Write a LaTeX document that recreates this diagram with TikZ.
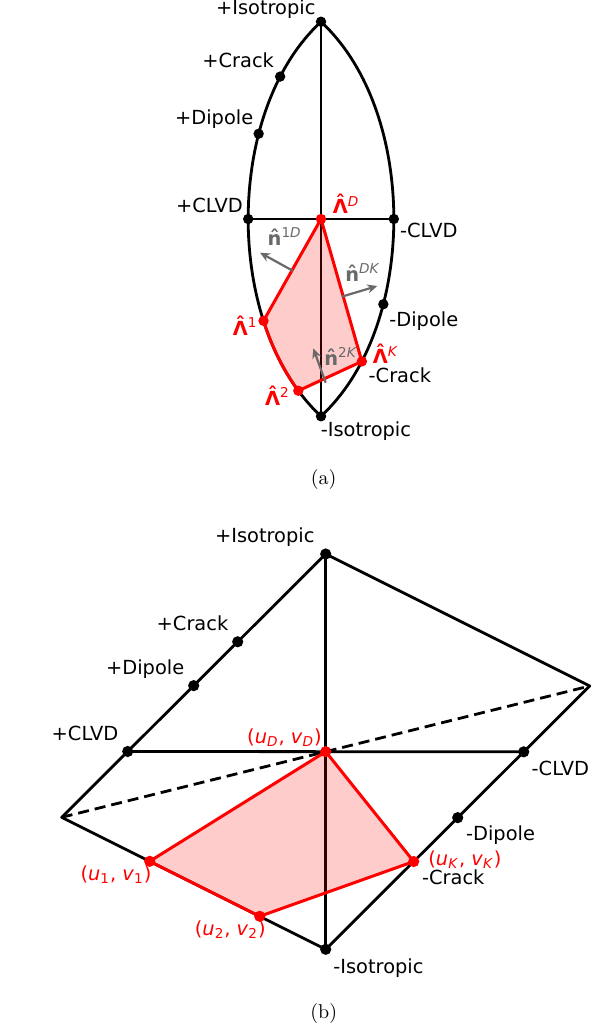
\documentclass[tikz,border=0pt]{standalone}
\usepackage{fontspec}
\newfontfamily\dejavu{DejaVu Sans}
\usetikzlibrary{arrows.meta,calc}
\definecolor{normgray}{RGB}{105,105,105}
\newcommand{\hatted}[2]{\ooalign{#2\cr\hidewidth\raisebox{#1}{ˆ}\hidewidth\cr}}

\begin{document}
\begin{tikzpicture}[
  x=0.5pt, y=-0.5pt,
  lbl/.style={font=\dejavu\fontsize{9.7}{11}\selectfont, inner sep=0pt, anchor=base west},
  redlbl/.style={lbl, text=red},
  nlbl/.style={lbl, text=normgray},
  rim/.style={line width=1.4pt, line join=round},
  thinrim/.style={line width=0.85pt},
  bdot/.style={circle, fill=black, inner sep=0pt, minimum size=5.2pt},
  rdot/.style={bdot, fill=red},
  poly/.style={draw=red, line width=1.5pt, line join=round, fill=red, fill opacity=0.2},
  normarrow/.style={-{Stealth[length=5pt, width=4.5pt]}, normgray, line width=1.1pt},
  captxt/.style={font=\fontsize{10}{12}\selectfont, inner sep=0pt}
]
\useasboundingbox (0,0) rectangle (597,1032);

% (a) lune, Hammer projection
\begin{scope}[shift={(321,219)}, x=69.75pt, y=69.75pt]
  \coordinate (atop) at (0,1.4142);
  \coordinate (abot) at (0,-1.4142);
  \coordinate (apcrack) at (-0.293,1.021);
  \coordinate (apdip) at (-0.447,0.611);
  \coordinate (apclvd) at (-0.522,0);
  \coordinate (amclvd) at (0.522,0);
  \coordinate (amdip) at (0.447,-0.611);
  \coordinate (amcrack) at (0.293,-1.021);
  \coordinate (alamD) at (0,0);
  \coordinate (alam1) at (-0.412,-0.730);
  \coordinate (alam2) at (-0.1625,-1.231);

  \draw[rim] plot[domain=90:-90, samples=73, variable=\t]
    ({2*sqrt(2)*cos(\t)*sin(-15)/sqrt(1+cos(\t)*cos(15))}, {sqrt(2)*sin(\t)/sqrt(1+cos(\t)*cos(15))});
  \draw[rim] plot[domain=90:-90, samples=73, variable=\t]
    ({2*sqrt(2)*cos(\t)*sin(15)/sqrt(1+cos(\t)*cos(15))}, {sqrt(2)*sin(\t)/sqrt(1+cos(\t)*cos(15))});
  \draw[rim] (atop) -- (abot);
  \draw[thinrim] (apclvd) -- (amclvd);
  \filldraw[poly] (alamD) -- (alam1)
    -- plot[domain=-42.5:-75.7, samples=12, variable=\t]
    ({2*sqrt(2)*cos(\t)*sin(-15)/sqrt(1+cos(\t)*cos(15))}, {sqrt(2)*sin(\t)/sqrt(1+cos(\t)*cos(15))})
    -- (amcrack) -- cycle;
\end{scope}

\foreach \p in {atop,apcrack,apdip,apclvd,amclvd,amdip,abot}
  \node[bdot] (d-\p) at (\p) {};
\foreach \p in {alamD,alam1,alam2,amcrack}
  \node[rdot] (d-\p) at (\p) {};

% normals
\coordinate (n1s) at (292.7,270.7);
\coordinate (n1e) at (260,252.7);
\coordinate (nKs) at (341.7,296.7);
\coordinate (nKe) at (377.3,286);
\coordinate (n2s) at (325.7,382.7);
\coordinate (n2e) at (313.3,348.3);
\draw[normarrow] (n1s) -- (n1e);
\draw[normarrow] (nKs) -- (nKe);
\draw[normarrow] (n2s) -- (n2e);

\node[lbl] (aiso) at (215.7,15) {+Isotropic};
\node[lbl] (acrk) at (202,68) {+Crack};
\node[lbl] (adip) at (174.7,125) {+Dipole};
\node[lbl] (aclvdp) at (175.7,212.7) {+CLVD};
\node[lbl] (aclvdm) at (399.7,237.3) {-CLVD};
\node[lbl] (adipm) at (389,326.7) {-Dipole};
\node[lbl] (acrkm) at (368.3,382.7) {-Crack};
\node[lbl] (aisom) at (320.5,436) {-Isotropic};
\node[redlbl] (tlamD) at (332.5,213.3) {\textbf{\hatted{0.2em}{Λ}}\textsuperscript{\textit{D}}};
\node[redlbl] (tlam1) at (232.5,335) {\textbf{\hatted{0.2em}{Λ}}\textsuperscript{1}};
\node[redlbl] (tlam2) at (264.8,405) {\textbf{\hatted{0.2em}{Λ}}\textsuperscript{2}};
\node[redlbl] (tlamK) at (372.5,363.3) {\textbf{\hatted{0.2em}{Λ}}\textsuperscript{\textit{K}}};
\node[nlbl] (tn1D) at (267.3,245) {\textbf{\hatted{0.02em}{n}}\textsuperscript{1\textit{D}}};
\node[nlbl] (tnDK) at (345,281) {\textbf{\hatted{0.02em}{n}}\textsuperscript{\textit{DK}}};
\node[nlbl] (tn2K) at (324,365) {\textbf{\hatted{0.02em}{n}}\textsuperscript{2\textit{K}}};
\node[captxt] (capa) at (323.7,479) {(a)};

% (b) parallelogram
\coordinate (btop) at (325.7,554);
\coordinate (bleft) at (61.7,817.3);
\coordinate (bright) at (589.7,686);
\coordinate (bbot) at (325.7,949.3);
\coordinate (bpcrack) at ($(btop)!0.3333!(bleft)$);
\coordinate (bpdip) at ($(btop)!0.5!(bleft)$);
\coordinate (bpclvd) at ($(btop)!0.75!(bleft)$);
\coordinate (bmclvd) at ($(bright)!0.25!(bbot)$);
\coordinate (bmdip) at ($(bright)!0.5!(bbot)$);
\coordinate (bmcrack) at ($(bright)!0.6667!(bbot)$);
\coordinate (buD) at ($(bleft)!0.5!(bright)$);
\coordinate (bu1) at ($(bleft)!0.3333!(bbot)$);
\coordinate (bu2) at ($(bleft)!0.75!(bbot)$);

\draw[rim] (btop) -- (bleft) -- (bbot) -- (bright) -- cycle;
\draw[rim] (btop) -- (bbot);
\draw[rim] (bpclvd) -- (bmclvd);
\draw[rim, dash pattern=on 5.5pt off 3pt] (bleft) -- (bright);
\filldraw[poly] (buD) -- (bu1) -- (bu2) -- (bmcrack) -- cycle;

\foreach \p in {btop,bpcrack,bpdip,bpclvd,bmclvd,bmdip,bbot}
  \node[bdot, minimum size=5.6pt] (d-\p) at (\p) {};
\foreach \p in {buD,bu1,bu2,bmcrack}
  \node[rdot, minimum size=5.6pt] (d-\p) at (\p) {};

\node[lbl] (biso) at (214.7,542.7) {+Isotropic};
\node[lbl] (bcrk) at (156.3,630) {+Crack};
\node[lbl] (bdip) at (105.7,674) {+Dipole};
\node[lbl] (bclvdp) at (51.3,740) {+CLVD};
\node[lbl] (bclvdm) at (531.3,775) {-CLVD};
\node[lbl] (bdipm) at (465.7,840) {-Dipole};
\node[lbl] (bcrkm) at (421.7,884.3) {-Crack};
\node[lbl] (bisom) at (333,973) {-Isotropic};
\node[redlbl] (tuD) at (246.8,743.3) {(\textit{u}\textsubscript{\textit{D}}, \textit{v}\textsubscript{\textit{D}})};
\node[redlbl] (tuK) at (428,865) {(\textit{u}\textsubscript{\textit{K}}, \textit{v}\textsubscript{\textit{K}})};
\node[redlbl] (tu1) at (80.2,880) {(\textit{u}\textsubscript{1}, \textit{v}\textsubscript{1})};
\node[redlbl] (tu2) at (194.5,935) {(\textit{u}\textsubscript{2}, \textit{v}\textsubscript{2})};
\node[captxt] (capb) at (323.7,1013) {(b)};
\end{tikzpicture}
\end{document}
